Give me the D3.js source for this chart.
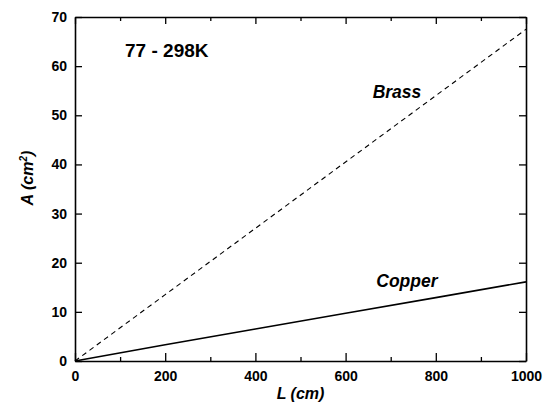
<!DOCTYPE html>
<html>
<head>
<meta charset="utf-8">
<script src="https://cdn.jsdelivr.net/npm/d3@7"></script>
<style>
  body { margin: 0; background: #fff; }
  svg { display: block; font-family: "Liberation Sans", Arial, sans-serif; }
  .axis path { stroke: #000; stroke-width: 1.6; }
  .axis line { stroke: #000; stroke-width: 1.3; }
  .axis text { font-size: 14px; font-weight: bold; fill: #000; }
</style>
</head>
<body>
<svg id="chart"></svg>
<script>
// lengths (cm) and areas (cm^2)
const lengths = [0, 200, 400, 600, 800, 1000];
const brassArea = [0, 13.5, 27.0, 40.5, 54.0, 67.5];
const copperArea = [0, 3.3, 6.5, 9.7, 12.9, 16.1];

const xMajorTicks = [0, 200, 400, 600, 800, 1000];
const xMinorTicks = [100, 300, 500, 700, 900];
const yTicks = [0, 10, 20, 30, 40, 50, 60, 70];

const width = 550, height = 405;
const margin = { top: 17, right: 24, bottom: 44, left: 75 };
const innerWidth = width - margin.left - margin.right;
const innerHeight = height - margin.top - margin.bottom;

const svg = d3.select("#chart").attr("width", width).attr("height", height);
const g = svg.append("g").attr("transform", `translate(${margin.left},${margin.top})`);

const x = d3.scaleLinear().domain([0, 1000]).range([0, innerWidth]);
const y = d3.scaleLinear().domain([0, 70]).range([innerHeight, 0]);

const noLabels = a => a.selectAll("text").remove();

// bottom axis: major ticks with labels, inward
g.append("g").attr("class", "axis")
  .attr("transform", `translate(0,${innerHeight})`)
  .call(d3.axisBottom(x).tickValues(xMajorTicks).tickFormat(d3.format("d"))
    .tickSize(-8).tickPadding(10).tickSizeOuter(0))
  .call(a => a.selectAll("text").attr("dy", "0.71em"));
g.append("g").attr("class", "axis")
  .attr("transform", `translate(0,${innerHeight})`)
  .call(d3.axisBottom(x).tickValues(xMinorTicks).tickSize(-4).tickSizeOuter(0))
  .call(a => a.select(".domain").remove())
  .call(noLabels);

// top axis mirror
g.append("g").attr("class", "axis")
  .call(d3.axisTop(x).tickValues(xMajorTicks).tickSize(-7).tickSizeOuter(0))
  .call(noLabels);
g.append("g").attr("class", "axis")
  .call(d3.axisTop(x).tickValues(xMinorTicks).tickSize(-4).tickSizeOuter(0))
  .call(a => a.select(".domain").remove())
  .call(noLabels);

// left axis
g.append("g").attr("class", "axis")
  .call(d3.axisLeft(y).tickValues(yTicks).tickSize(-7).tickPadding(8).tickSizeOuter(0));

// right axis mirror
g.append("g").attr("class", "axis")
  .attr("transform", `translate(${innerWidth},0)`)
  .call(d3.axisRight(y).tickValues(yTicks).tickSize(-7).tickSizeOuter(0))
  .call(noLabels);

const line = d3.line().x((d, i) => x(lengths[i])).y(d => y(d));

g.append("path")
  .datum(brassArea)
  .attr("fill", "none")
  .attr("stroke", "#000")
  .attr("stroke-width", 1.1)
  .attr("stroke-dasharray", "5,4")
  .attr("d", line);

g.append("path")
  .datum(copperArea)
  .attr("fill", "none")
  .attr("stroke", "#000")
  .attr("stroke-width", 1.6)
  .attr("d", line);

// annotations
g.append("text")
  .attr("x", x(111)).attr("y", y(61.8))
  .attr("font-size", 19).attr("font-weight", "bold")
  .text("77 - 298K");

g.append("text")
  .attr("x", x(660)).attr("y", y(53.5))
  .attr("font-size", 17.5).attr("font-weight", "bold").attr("font-style", "italic")
  .text("Brass");

g.append("text")
  .attr("x", x(668)).attr("y", y(15.1))
  .attr("font-size", 17.5).attr("font-weight", "bold").attr("font-style", "italic")
  .text("Copper");

// axis titles
svg.append("text")
  .attr("x", margin.left + innerWidth / 2).attr("y", 399)
  .attr("text-anchor", "middle")
  .attr("font-size", 16).attr("font-weight", "bold").attr("font-style", "italic")
  .text("L (cm)");

const yTitle = svg.append("text")
  .attr("transform", "translate(33,178) rotate(-90)")
  .attr("text-anchor", "middle")
  .attr("font-size", 16).attr("font-weight", "bold").attr("font-style", "italic");
yTitle.append("tspan").text("A (cm");
yTitle.append("tspan").attr("dy", -6).attr("font-size", 10).text("2");
yTitle.append("tspan").attr("dy", 6).text(")");
</script>
</body>
</html>
